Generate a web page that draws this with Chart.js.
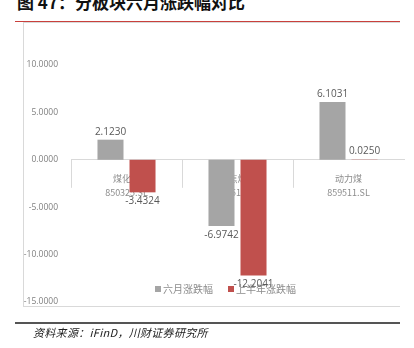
<!DOCTYPE html>
<html>
<head>
<meta charset="utf-8">
<script src="https://cdn.jsdelivr.net/npm/chart.js@4.4.1/dist/chart.umd.min.js"></script>
<style>
  html, body { margin: 0; padding: 0; background: #fff; }
  #wrap { position: relative; width: 414px; height: 348px; overflow: hidden; background: #fff; }
  #title { position: absolute; left: 17px; top: -7px; font: bold 17px "Noto Sans CJK SC", sans-serif; line-height: 17px; color: #111; white-space: nowrap; }
  #redline { position: absolute; left: 15px; top: 21px; width: 385px; height: 1px; background: #c9403c; }
  #frame { position: absolute; left: 23px; top: 22px; width: 377px; height: 285px; border-top: 1px solid #d9d9d9; border-left: 1px solid #d9d9d9; border-bottom: 1px solid #d9d9d9; box-sizing: border-box; }
  #blackline { position: absolute; left: 15px; top: 322px; width: 385px; height: 2px; background: #555; }
  #source { position: absolute; left: 33px; top: 325px; font: italic 11px "Noto Sans CJK SC", sans-serif; line-height: 14px; color: #222; white-space: nowrap; letter-spacing: 0.3px; }
  canvas { position: absolute; left: 0; top: 0; }
</style>
</head>
<body>
<div id="wrap">
  <div id="title">图 47：分板块六月涨跌幅对比</div>
  <div id="redline"></div>
  <div id="frame"></div>
  <canvas id="c" width="414" height="348"></canvas>
  <div id="blackline"></div>
  <div id="source">资料来源：iFinD，川财证券研究所</div>
</div>
<script>
// Sector names and index codes
const categories = ['煤化工', '焦煤', '动力煤'];
const codes = ['850325.SL', '859512.SL', '859511.SL'];
// Returns (%)
const juneChange = [2.1230, -6.9742, 6.1031];
const halfYearChange = [-3.4324, -12.2041, 0.0250];
const seriesNames = ['六月涨跌幅', '上半年涨跌幅'];
const yTicks = [10, 5, 0, -5, -10, -15];

const labels = categories.map((c, i) => [c, codes[i]]);

// Value labels, sector separators and legend drawn on top of the bars
const overlay = {
  id: 'overlay',
  afterDatasetsDraw(chart) {
    const ctx = chart.ctx;
    const x = chart.scales.x;
    const y = chart.scales.y;
    const zeroY = y.getPixelForValue(0);

    // separators between sectors below the zero line
    ctx.save();
    ctx.strokeStyle = '#d9d9d9';
    ctx.lineWidth = 1;
    const half = (x.getPixelForValue(1) - x.getPixelForValue(0)) / 2;
    for (let i = 0; i < categories.length; i++) {
      const px = Math.round(x.getPixelForValue(i) - half) + 0.5;
      ctx.beginPath();
      ctx.moveTo(px, zeroY);
      ctx.lineTo(px, zeroY + 28);
      ctx.stroke();
    }
    ctx.restore();

    // legend
    ctx.save();
    ctx.font = '10px "Noto Sans CJK SC", sans-serif';
    ctx.textBaseline = 'middle';
    const ly = 289;
    let lx = chart.chartArea.left + 84;
    chart.data.datasets.forEach(ds => {
      ctx.fillStyle = ds.backgroundColor;
      ctx.fillRect(lx, ly - 3, 6, 6);
      lx += 8;
      ctx.fillStyle = '#8c8c8c';
      ctx.fillText(ds.label, lx, ly);
      lx += ctx.measureText(ds.label).width + 15;
    });
    ctx.restore();

    // value labels
    ctx.save();
    ctx.font = '10px "Open Sans", sans-serif';
    ctx.fillStyle = '#595959';
    ctx.textAlign = 'center';
    ctx.textBaseline = 'middle';
    chart.data.datasets.forEach((ds, di) => {
      const meta = chart.getDatasetMeta(di);
      meta.data.forEach((bar, i) => {
        const v = ds.data[i];
        const ty = v >= 0 ? bar.y - 8 : bar.y + 9;
        ctx.fillText(v.toFixed(4), bar.x, ty);
      });
    });
    ctx.restore();
  }
};

new Chart(document.getElementById('c'), {
  type: 'bar',
  data: {
    labels: labels,
    datasets: [
      { label: seriesNames[0], data: juneChange, backgroundColor: '#a5a5a5' },
      { label: seriesNames[1], data: halfYearChange, backgroundColor: '#c0504d' }
    ]
  },
  options: {
    responsive: false,
    animation: false,
    devicePixelRatio: 1,
    categoryPercentage: 0.577,
    barPercentage: 0.8125,
    layout: { padding: { left: 23, right: 10, top: 65, bottom: 46 } },
    plugins: { legend: { display: false }, tooltip: { enabled: false } },
    scales: {
      x: {
        position: { y: 0 },
        grid: { display: false },
        border: { display: true, color: '#d9d9d9', width: 1 },
        ticks: {
          padding: 4,
          color: '#8c8c8c',
          font: { size: 9, family: '"Noto Sans CJK SC", "Open Sans", sans-serif', lineHeight: 1.55 },
          maxRotation: 0
        }
      },
      y: {
        min: -15,
        max: 10,
        afterBuildTicks(scale) { scale.ticks = yTicks.map(v => ({ value: v })); },
        afterFit(scale) { scale.width = 48; },
        grid: { display: false },
        border: { display: false },
        ticks: {
          padding: 5,
          color: '#7f7f7f',
          font: { size: 8.5, family: '"Open Sans", sans-serif' },
          callback: v => v.toFixed(4)
        }
      }
    }
  },
  plugins: [overlay]
});
</script>
</body>
</html>
